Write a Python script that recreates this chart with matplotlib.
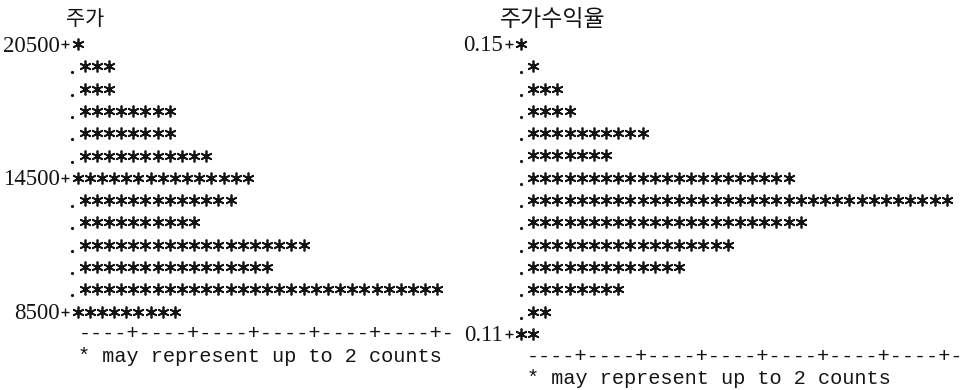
import numpy as np
import matplotlib
matplotlib.use("Agg")
import matplotlib.pyplot as plt
from matplotlib.transforms import ScaledTranslation

# 주가 (stock price): bin midpoints and number of '*' per bin
price_bins = [20500, 19500, 18500, 17500, 16500, 15500, 14500,
              13500, 12500, 11500, 10500, 9500, 8500]
price_stars = [1, 3, 3, 8, 8, 11, 15, 13, 10, 19, 16, 30, 9]
price_ticks = [20500, 14500, 8500]
price_tick_labels = ["20500", "14500", "8500"]

# 주가수익율 (PER): bin midpoints and number of '*' per bin
per_bins = [0.150, 0.147, 0.144, 0.141, 0.138, 0.135, 0.132,
            0.129, 0.126, 0.123, 0.120, 0.117, 0.114, 0.111]
per_stars = [1, 1, 3, 4, 10, 7, 22, 35, 23, 17, 13, 8, 2, 2]
per_ticks = [0.150, 0.111]
per_tick_labels = ["0.15", "0.11"]

titles = ["주가", "주가수익율"]
footnote = "* may represent up to 2 counts"

DPI = 100
W, H = 964, 390
PITCH = 12.17            # width of one character cell (px)
ROW = 22.3               # line height (px)
TOP = 44.0               # centre of the first line (px from top)
MONO = "Liberation Mono"
MONO_PT = PITCH / 0.6 * 72 / DPI
SERIF = "Liberation Serif"
KR = ["Noto Sans CJK KR", "DejaVu Sans"]
INK = "#141414"

fig = plt.figure(figsize=(W / DPI, H / DPI), dpi=DPI)
fig.patch.set_facecolor("white")


def panel(bins, stars, ticks, tick_labels, title, col0_px, label_shift_px,
          title_x, title_pt):
    step = bins[0] - bins[1]
    ax = fig.add_axes([0, 0, 1, 1])
    ax.set_xlim(-col0_px / PITCH, (W - col0_px) / PITCH)
    ax.set_ylim(bins[0] - (H - TOP) / ROW * step, bins[0] + TOP / ROW * step)
    ax.axis("off")

    # labelled lines are printed a little to the left of the dotted ones
    shifted = ax.transData + ScaledTranslation(-label_shift_px / DPI, 0,
                                               fig.dpi_scale_trans)

    def dy(px):
        return px / ROW * step

    for v, n in zip(bins, stars):
        is_tick = any(abs(v - t) < step / 2 for t in ticks)
        tr = shifted if is_tick else ax.transData
        cols = np.arange(n)
        ax.plot(cols, np.full(n, v), ls="none", marker=(6, 2, 0), ms=8.5,
                mew=1.25, color=INK, transform=tr)
        if is_tick:
            ax.plot([-1], [v], ls="none", marker="+", ms=5.5, mew=1.0,
                    color=INK, transform=tr)
        else:
            ax.plot([-1], [v - dy(6)], ls="none", marker="o", ms=2.3,
                    mew=0, color=INK)

    for t, lab in zip(ticks, tick_labels):
        ax.text(-1.45, t - dy(7.5), lab, family=SERIF, size=16.5,
                ha="right", va="baseline", color=INK, transform=shifted)

    nmax = max(stars)
    groups = int(np.ceil(nmax / 5))
    axis_line = "----+" * groups + "-"
    ax.text(-0.5, bins[-1] - step, axis_line, family=MONO, size=MONO_PT,
            ha="left", va="center", color=INK)
    ax.text(-0.5, bins[-1] - 2 * step, footnote, family=MONO, size=MONO_PT,
            ha="left", va="center", color=INK)

    fig.text(title_x / W, 1 - 19 / H, title, family=KR, size=title_pt,
             ha="left", va="center", color=INK)
    return ax


panel(price_bins, price_stars, price_ticks, price_tick_labels, titles[0],
      84.5, 7, 66, 15.0)
panel(per_bins, per_stars, per_ticks, per_tick_labels, titles[1],
      533.0, 12, 500, 16.5)

fig.savefig("out.png", dpi=DPI, facecolor="white")
